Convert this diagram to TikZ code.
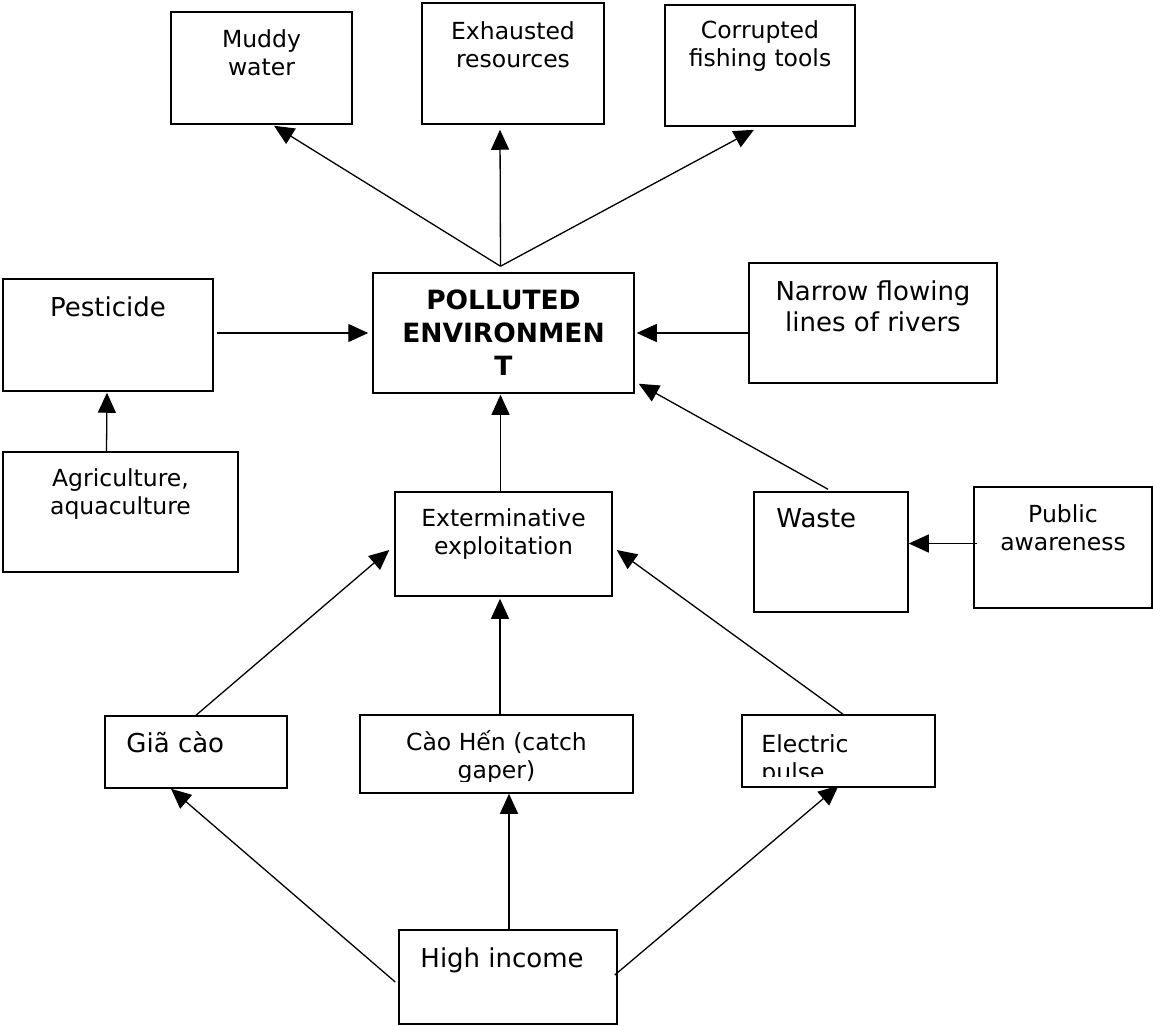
\documentclass[tikz,border=0pt]{standalone}
\usepackage{fontspec}
\setmainfont{DejaVu Sans}
\usetikzlibrary{arrows.meta}

\begin{document}
\begin{tikzpicture}[x=1pt, y=-1pt,
        box/.style={draw, line width=1.5pt, inner sep=0pt},
        txt/.style={font=\fontsize{23.5}{28}\selectfont, align=center, inner sep=0pt, anchor=base},
        bigtxt/.style={font=\fontsize{26}{31}\selectfont, align=center, inner sep=0pt, anchor=base},
        arr/.style={-{Triangle[length=20pt, width=18pt]}, line width=1.3pt}]
        \useasboundingbox (0,0) rectangle (1153,1025);

        \node[box, minimum width=181, minimum height=112] (mud) at (261.5,68) {};
        \node[txt] (mudt) at ([yshift=-64]mud.north) {Muddy\\water};

        \node[box, minimum width=182, minimum height=121] (exh) at (513,63.5) {};
        \node[txt] (exht) at ([yshift=-65]exh.north) {Exhausted\\resources};

        \node[box, minimum width=190, minimum height=121] (cor) at (760,65.5) {};
        \node[txt] (cort) at ([yshift=-62]cor.north) {Corrupted\\fishing tools};

        \node[box, minimum width=210, minimum height=112] (pes) at (108,335) {};
        \node[bigtxt] (pest) at ([yshift=-38]pes.north) {Pesticide};

        \node[box, minimum width=261, minimum height=120] (pol) at (503.5,333) {};
        \node[bigtxt, font=\fontsize{26.5}{33}\selectfont\bfseries] (polt) at ([yshift=-103]pol.north) {POLLUTED\\ENVIRONMEN\\T};

        \node[box, minimum width=248, minimum height=120] (nar) at (873,323) {};
        \node[bigtxt] (nart) at ([yshift=-69]nar.north) {Narrow flowing\\lines of rivers};

        \node[box, minimum width=235, minimum height=120] (agr) at (120.5,512) {};
        \node[txt] (agrt) at ([yshift=-63]agr.north) {Agriculture,\\aquaculture};

        \node[box, minimum width=217, minimum height=104] (ext) at (503.5,544) {};
        \node[txt] (extt) at ([yshift=-63]ext.north) {Exterminative\\exploitation};

        \node[box, minimum width=154, minimum height=120] (was) at (831,552) {};
        \node[bigtxt, anchor=base west] (wast) at ([xshift=23,yshift=-36]was.north west) {Waste};

        \node[box, minimum width=178, minimum height=121] (pub) at (1063,547.5) {};
        \node[txt] (pubt) at ([yshift=-64]pub.north) {Public\\awareness};

        \node[box, minimum width=182, minimum height=72] (gia) at (196,752) {};
        \node[bigtxt, anchor=base west] (giat) at ([xshift=22,yshift=-37]gia.north west) {Giã cào};

        \node[box, minimum width=273, minimum height=78] (cao) at (496.5,754) {};
        \begin{scope}
            \clip (cao.north west) rectangle ([yshift=12]cao.south east);
            \node[txt] (caot) at ([yshift=-64]cao.north) {Cào Hến (catch\\gaper)};
        \end{scope}

        \node[box, minimum width=193, minimum height=72] (ele) at (838.5,751) {};
        \begin{scope}
            \clip (ele.north west) rectangle ([yshift=11]ele.south east);
            \node[txt, align=left, anchor=base west] (elet) at ([xshift=20,yshift=-66]ele.north west) {Electric\\pulse};
        \end{scope}

        \node[box, minimum width=218, minimum height=94] (hig) at (508,977) {};
        \node[bigtxt, anchor=base west] (higt) at ([xshift=22,yshift=-38]hig.north west) {High income};

        \coordinate (hub) at ([xshift=-3,yshift=6]pol.north);
        \draw[arr] (hub) -- ([xshift=12.5,yshift=-1]mud.south);
        \draw[arr] (hub) -- ([xshift=-13,yshift=-5]exh.south);
        \draw[arr] (hub) -- ([xshift=-6,yshift=-3]cor.south);

        \draw[arr] ([xshift=3]pes.east |- pol.west) -- ([xshift=-4]pol.west);
        \draw[arr] (nar.west |- pol.east) -- ([xshift=2]pol.east);
        \draw[arr] ([xshift=-14]agr.north) -- ([xshift=-1,yshift=-1]pes.south);
        \draw[arr] ([xshift=-3]ext.north) -- ([xshift=-3,yshift=-1]pol.south);
        \draw[arr] ([xshift=-3,yshift=2]was.north) -- ([xshift=4,yshift=10]pol.south east);
        \draw[arr] ([xshift=4,yshift=4]pub.west) -- ([yshift=4]pub.west -| was.east);

        \draw[arr] (gia.north) -- ([xshift=-5,yshift=-6]ext.west);
        \draw[arr] ([xshift=3.5]cao.north) -- ([xshift=-3.5,yshift=-2]ext.south);
        \draw[arr] ([xshift=4.5]ele.north) -- ([xshift=4,yshift=-6]ext.east);

        \draw[arr] ([xshift=-3,yshift=-5]hig.west) -- ([xshift=-25]gia.south);
        \draw[arr] ([xshift=1]hig.north) -- ([xshift=12.5]cao.south);
        \draw[arr] ([xshift=-3,yshift=2]hig.east) -- ([yshift=2]ele.south);
\end{tikzpicture}
\end{document}
